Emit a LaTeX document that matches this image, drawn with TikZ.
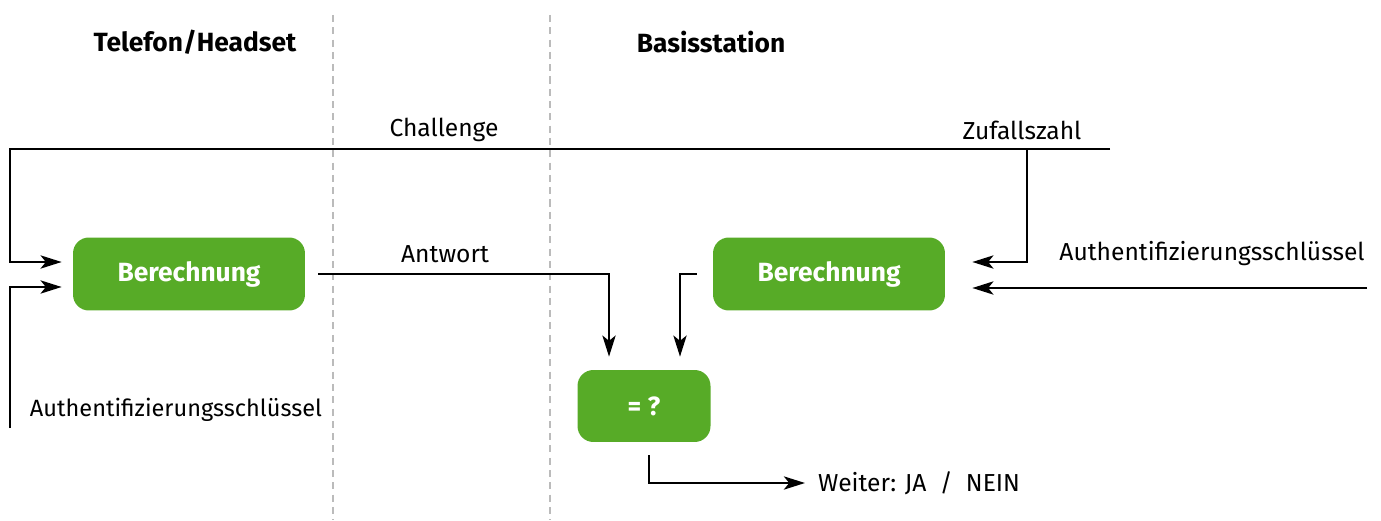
\documentclass[tikz,border=0pt]{standalone}
\usepackage{fontspec}
\setmainfont{Fira Sans}
\usetikzlibrary{arrows.meta}
\definecolor{boxgreen}{HTML}{57AB27}
\definecolor{sepgray}{HTML}{BBBBBB}

\begin{document}
\begin{tikzpicture}[x=0.02cm,y=-0.02cm,
  calcbox/.style={rectangle,rounded corners=9pt,fill=boxgreen,text=white,
    font=\fontsize{15}{17}\selectfont\bfseries,inner sep=0pt},
  label/.style={font=\fontsize{14}{16}\selectfont},
  title/.style={font=\fontsize{15}{17}\selectfont\bfseries},
  wire/.style={line width=1.5pt},
  arr/.style={wire,-{Stealth[length=12pt,width=7.5pt,inset=3pt]}},
  sep/.style={sepgray,line width=1pt,dash pattern=on 4pt off 3pt}]
\useasboundingbox (0,0) rectangle (1381,520);

\draw[sep] (333,15) -- (333,520);
\draw[sep] (550,15) -- (550,520);

\node[title] (phone) at (195,42) {Telefon/Headset};
\node[title] (base) at (711,42) {Basisstation};

\node[calcbox,minimum width=4.64cm,minimum height=1.46cm] (calcL) at (189,274) {Berechnung};
\node[calcbox,minimum width=4.64cm,minimum height=1.46cm] (calcR) at (829,274) {Berechnung};
\node[calcbox,minimum width=2.66cm,minimum height=1.44cm] (cmp) at (644,406) {= ?};

\coordinate (chalR) at (1110,149);
\coordinate (chalL) at (10,149);
\coordinate (zuf) at (1027,149);
\coordinate (keyL) at (10,428);
\coordinate (keyR) at (1367,288);

\node[label] (chal) at (444,130) {Challenge};
\node[label] (zufl) at (1022,130) {Zufallszahl};
\node[label] (antw) at (445,254) {Antwort};
\node[label,font=\fontsize{13.4}{16}\selectfont] (akeyL) at (176,410) {Authentifizierungsschlüssel};
\node[label] (akeyR) at (1212,254) {Authentifizierungsschlüssel};
\node[label,anchor=west] (result) at (812,483) {Weiter: JA \;/\; NEIN};

\draw[arr,shorten >=0.22cm] (chalR) -- (chalL) |- ([yshift=0.24cm]calcL.west);
\draw[arr,shorten >=0.22cm] (keyL) |- ([yshift=-0.26cm]calcL.west);
\draw[arr,shorten >=0.54cm] (zuf) |- ([yshift=0.24cm]calcR.east);
\draw[arr,shorten >=0.54cm] (keyR) -- (keyR -| calcR.east);
\draw[arr,shorten <=0.26cm,shorten >=0.26cm] (calcL.east) -| ([xshift=-0.7cm]cmp.north);
\draw[arr,shorten <=0.32cm,shorten >=0.26cm] (calcR.west) -| ([xshift=0.72cm]cmp.north);
\draw[arr,shorten >=0.14cm] ([xshift=0.1cm,yshift=-0.26cm]cmp.south) |- (result.west);
\end{tikzpicture}
\end{document}
